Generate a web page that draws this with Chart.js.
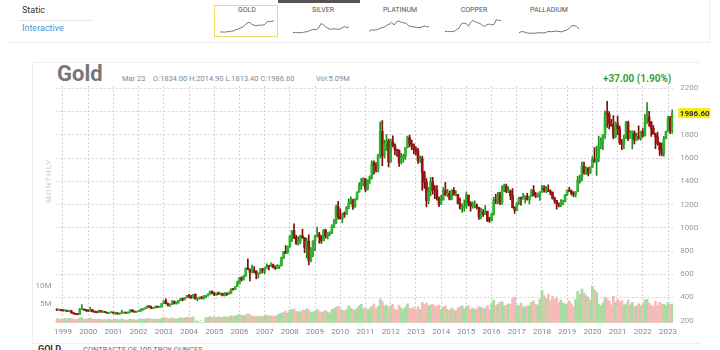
<!DOCTYPE html>
<html lang="en">
<head>
<meta charset="UTF-8" />
<title>Gold monthly</title>
<script src="https://cdn.jsdelivr.net/npm/chart.js"></script>
<style>
  body { margin: 0; width: 720px; height: 350px; overflow: hidden; background: #fff; position: relative;
         font-family: Roboto, 'Open Sans', Arial, sans-serif; }
  .abs { position: absolute; white-space: nowrap; }
  .tab { position: absolute; top: 6px; font-size: 7px; color: #555; text-align: center; }
  canvas { position: absolute; }
</style>
</head>
<body>
  <!-- header strip -->
  <div class="abs" style="left:278px;top:0;width:82px;height:3px;background:#555"></div>
  <div class="abs" style="left:22px;top:5px;font-size:9px;color:#333">Static</div>
  <div class="abs" style="left:18px;top:20px;width:74px;height:1px;background:#e6e6e6"></div>
  <div class="abs" style="left:22px;top:23px;font-size:9px;color:#4a93d2">Interactive</div>
  <div class="abs" style="left:214px;top:5px;width:62px;height:30px;border:1.5px solid #efd967"></div>
  <div class="tab" style="left:215px;width:64px">GOLD</div>
  <div class="tab" style="left:291px;width:64px">SILVER</div>
  <div class="tab" style="left:368px;width:64px">PLATINUM</div>
  <div class="tab" style="left:442px;width:64px">COPPER</div>
  <div class="tab" style="left:517px;width:64px">PALLADIUM</div>
  <div class="abs" style="left:8px;top:42px;width:702px;height:1px;background:#ececec"></div>
  <div class="abs" style="left:709px;top:0;width:1px;height:43px;background:#ececec"></div>

  <canvas id="spGold" width="56" height="16" style="left:219px;top:19px"></canvas>
  <canvas id="spSilver" width="58" height="17" style="left:292px;top:18px"></canvas>
  <canvas id="spPlatinum" width="62" height="17" style="left:368px;top:18px"></canvas>
  <canvas id="spCopper" width="58" height="19" style="left:444px;top:16px"></canvas>
  <canvas id="spPalladium" width="62" height="20" style="left:518px;top:15px"></canvas>

  <!-- chart panel -->
  <div class="abs" style="left:32px;top:62px;width:667px;height:280px;border:1px solid #efefef;border-right:none"></div>
  <div class="abs" style="left:57px;top:63px;font-size:22px;line-height:22px;font-weight:bold;color:#777">Gold</div>
  <div class="abs" style="left:122px;top:75px;font-size:7.5px;line-height:8px;color:#888">Mar 23</div>
  <div class="abs" style="left:153px;top:75px;font-size:7.5px;line-height:8px;color:#888">O:1834.00 H:2014.90 L:1813.40 C:1986.60</div>
  <div class="abs" style="left:316px;top:75px;font-size:7.5px;line-height:8px;color:#888">Vol:5.09M</div>
  <div class="abs" style="left:603px;top:74px;font-size:10px;line-height:10px;font-weight:bold;color:#3c9c3c">+37.00 (1.90%)</div>
  <div class="abs" style="left:48px;top:181px;font-size:8px;font-weight:bold;letter-spacing:1px;color:#dcdcdc;transform:translate(-50%,-50%) rotate(-90deg)">MONTHLY</div>

  <canvas id="gold" width="690" height="281" style="left:30px;top:62px"></canvas>

  <div class="abs" style="left:38px;top:344px;font-size:9px;font-weight:bold;color:#333">GOLD</div>
  <div class="abs" style="left:83px;top:345px;font-size:7.5px;color:#666">CONTRACTS OF 100 TROY OUNCES</div>

<script>
// first month shown: Oct 1998, last: Mar 2023
const startYear = 1998, startMonth = 10;

const opens = [
  296, 292, 294,
  288, 287, 287, 280, 286, 268, 262, 255, 254, 299, 299, 292,
  290, 283, 293, 278, 274, 272, 288, 276, 277, 273, 264, 270,
  273, 265, 267, 258, 264, 267, 270, 266, 273, 293, 279, 275,
  279, 282, 297, 302, 309, 326, 318, 305, 312, 324, 317, 319,
  348, 368, 347, 336, 339, 364, 346, 354, 375, 388, 386, 398,
  416, 402, 396, 427, 388, 394, 395, 391, 408, 416, 429, 453,
  438, 422, 435, 429, 435, 417, 437, 429, 433, 473, 470, 495,
  518, 569, 556, 584, 654, 643, 616, 634, 626, 599, 607, 648,
  636, 652, 672, 669, 683, 660, 650, 666, 673, 743, 794, 783,
  836, 928, 975, 917, 865, 887, 930, 914, 834, 884, 718, 816,
  884, 928, 942, 924, 890, 980, 927, 955, 955, 1008, 1040, 1182,
  1096, 1081, 1118, 1113, 1180, 1215, 1245, 1180, 1248, 1307, 1359, 1386,
  1421, 1333, 1410, 1439, 1556, 1536, 1500, 1628, 1829, 1620, 1725, 1746,
  1566, 1739, 1711, 1669, 1664, 1561, 1604, 1614, 1692, 1776, 1719, 1713,
  1676, 1662, 1579, 1596, 1476, 1393, 1234, 1313, 1396, 1327, 1323, 1250,
  1202, 1240, 1321, 1284, 1296, 1246, 1322, 1282, 1287, 1210, 1171, 1175,
  1184, 1279, 1212, 1183, 1183, 1190, 1172, 1095, 1134, 1115, 1142, 1064,
  1060, 1116, 1238, 1234, 1293, 1215, 1322, 1357, 1312, 1317, 1276, 1173,
  1152, 1211, 1253, 1251, 1268, 1268, 1242, 1269, 1322, 1280, 1271, 1275,
  1309, 1345, 1318, 1327, 1316, 1305, 1253, 1233, 1206, 1196, 1215, 1226,
  1283, 1325, 1316, 1298, 1286, 1311, 1413, 1437, 1529, 1472, 1514, 1473,
  1523, 1589, 1566, 1597, 1694, 1751, 1800, 1986, 1978, 1895, 1879, 1780,
  1895, 1850, 1734, 1716, 1768, 1906, 1771, 1818, 1818, 1757, 1784, 1774,
  1829, 1796, 1909, 1954, 1912, 1855, 1807, 1782, 1726, 1672, 1640, 1768,
  1826, 1945, 1834
];

const highs = [
  302, 300, 297,
  293, 291, 290, 291, 290, 271, 264, 259, 307, 339, 301, 294,
  293, 316, 298, 284, 279, 292, 290, 279, 279, 275, 272, 276,
  273, 268, 268, 265, 292, 273, 272, 275, 294, 294, 284, 281,
  286, 302, 304, 310, 328, 331, 325, 315, 326, 324, 324, 350,
  372, 389, 352, 341, 373, 371, 363, 378, 392, 393, 400, 418,
  427, 418, 428, 432, 398, 404, 411, 418, 419, 431, 456, 458,
  443, 439, 446, 439, 435, 443, 438, 448, 475, 479, 497, 541,
  573, 577, 591, 654, 733, 647, 679, 665, 632, 612, 649, 650,
  657, 690, 673, 698, 688, 672, 684, 678, 748, 797, 846, 842,
  930, 975, 1033, 935, 925, 938, 988, 916, 912, 940, 829, 890,
  934, 1006, 961, 932, 985, 989, 958, 964, 1025, 1072, 1195, 1227,
  1162, 1128, 1138, 1183, 1249, 1266, 1245, 1250, 1310, 1388, 1425, 1432,
  1424, 1411, 1448, 1576, 1577, 1562, 1632, 1911, 1923, 1755, 1803, 1764,
  1764, 1792, 1723, 1677, 1671, 1640, 1632, 1693, 1789, 1798, 1755, 1723,
  1697, 1684, 1617, 1616, 1488, 1424, 1348, 1434, 1434, 1362, 1362, 1267,
  1280, 1345, 1392, 1331, 1315, 1326, 1346, 1321, 1288, 1256, 1205, 1240,
  1307, 1284, 1225, 1224, 1232, 1205, 1175, 1170, 1157, 1191, 1144, 1089,
  1127, 1263, 1287, 1306, 1306, 1362, 1377, 1375, 1352, 1325, 1338, 1183,
  1220, 1264, 1264, 1296, 1270, 1296, 1272, 1331, 1362, 1306, 1299, 1310,
  1366, 1362, 1356, 1369, 1326, 1310, 1265, 1237, 1214, 1243, 1238, 1286,
  1327, 1349, 1324, 1310, 1311, 1442, 1453, 1566, 1566, 1525, 1518, 1525,
  1613, 1691, 1704, 1788, 1775, 1802, 2005, 2089, 2000, 1933, 1966, 1911,
  1962, 1875, 1758, 1798, 1917, 1919, 1837, 1834, 1834, 1815, 1878, 1831,
  1853, 1976, 2078, 2003, 1914, 1879, 1814, 1824, 1735, 1729, 1786, 1833,
  1959, 1960, 2014.9
];

const lows = [
  287, 290, 284,
  283, 282, 277, 278, 266, 256, 252, 251, 253, 295, 289, 281,
  280, 282, 276, 272, 268, 270, 274, 270, 269, 263, 262, 268,
  263, 255, 256, 255, 263, 265, 264, 264, 271, 276, 272, 272,
  277, 281, 288, 299, 308, 314, 303, 301, 311, 313, 315, 318,
  346, 344, 325, 323, 338, 344, 342, 354, 373, 370, 379, 396,
  399, 393, 394, 386, 371, 385, 387, 385, 397, 411, 424, 432,
  418, 418, 424, 423, 414, 414, 417, 429, 433, 462, 468, 495,
  516, 541, 548, 583, 640, 543, 611, 612, 560, 568, 605, 612,
  606, 651, 637, 666, 654, 642, 648, 647, 671, 733, 778, 781,
  834, 880, 906, 857, 851, 864, 908, 786, 740, 681, 705, 752,
  802, 922, 867, 866, 886, 911, 904, 931, 950, 1000, 1036, 1075,
  1075, 1044, 1088, 1112, 1163, 1203, 1157, 1176, 1240, 1307, 1329, 1360,
  1308, 1324, 1382, 1418, 1462, 1478, 1480, 1603, 1535, 1601, 1665, 1523,
  1564, 1695, 1627, 1613, 1527, 1549, 1564, 1588, 1687, 1695, 1671, 1635,
  1625, 1554, 1563, 1321, 1338, 1180, 1208, 1273, 1290, 1251, 1238, 1181,
  1200, 1238, 1277, 1268, 1240, 1240, 1280, 1273, 1205, 1161, 1131, 1142,
  1167, 1191, 1142, 1169, 1170, 1162, 1072, 1077, 1098, 1112, 1052, 1046,
  1058, 1108, 1208, 1208, 1199, 1200, 1310, 1301, 1302, 1241, 1171, 1124,
  1147, 1198, 1195, 1244, 1214, 1238, 1205, 1268, 1275, 1260, 1264, 1236,
  1305, 1307, 1303, 1310, 1282, 1247, 1211, 1160, 1180, 1182, 1196, 1222,
  1276, 1310, 1281, 1267, 1266, 1309, 1384, 1400, 1459, 1460, 1446, 1463,
  1518, 1565, 1451, 1568, 1680, 1671, 1768, 1863, 1851, 1873, 1765, 1776,
  1802, 1717, 1673, 1680, 1767, 1750, 1768, 1678, 1721, 1747, 1761, 1753,
  1780, 1789, 1895, 1872, 1787, 1805, 1680, 1711, 1622, 1618, 1617, 1765,
  1822, 1809, 1813.4
];

const closes = [
  292, 294, 288,
  287, 287, 280, 286, 268, 262, 255, 254, 299, 299, 292, 290,
  283, 293, 278, 274, 272, 288, 276, 277, 273, 264, 270, 273,
  265, 267, 258, 264, 267, 270, 266, 273, 293, 279, 275, 279,
  282, 297, 302, 309, 326, 318, 305, 312, 324, 317, 319, 348,
  368, 347, 336, 339, 364, 346, 354, 375, 388, 386, 398, 416,
  402, 396, 427, 388, 394, 395, 391, 408, 416, 429, 453, 438,
  422, 435, 429, 435, 417, 437, 429, 433, 473, 470, 495, 518,
  569, 556, 584, 654, 643, 616, 634, 626, 599, 607, 648, 636,
  652, 672, 669, 683, 660, 650, 666, 673, 743, 794, 783, 836,
  928, 975, 917, 865, 887, 930, 914, 834, 884, 718, 816, 884,
  928, 942, 924, 890, 980, 927, 955, 955, 1008, 1040, 1182, 1096,
  1081, 1118, 1113, 1180, 1215, 1245, 1180, 1248, 1307, 1359, 1386, 1421,
  1333, 1410, 1439, 1556, 1536, 1500, 1628, 1829, 1620, 1725, 1746, 1566,
  1739, 1711, 1669, 1664, 1561, 1604, 1614, 1692, 1776, 1719, 1713, 1676,
  1662, 1579, 1596, 1476, 1393, 1234, 1313, 1396, 1327, 1323, 1250, 1202,
  1240, 1321, 1284, 1296, 1246, 1322, 1282, 1287, 1210, 1171, 1175, 1184,
  1279, 1212, 1183, 1183, 1190, 1172, 1095, 1134, 1115, 1142, 1064, 1060,
  1116, 1238, 1234, 1293, 1215, 1322, 1357, 1312, 1317, 1276, 1173, 1152,
  1211, 1253, 1251, 1268, 1268, 1242, 1269, 1322, 1280, 1271, 1275, 1309,
  1345, 1318, 1327, 1316, 1305, 1253, 1233, 1206, 1196, 1215, 1226, 1283,
  1325, 1316, 1298, 1286, 1311, 1413, 1437, 1529, 1472, 1514, 1473, 1523,
  1589, 1566, 1597, 1694, 1751, 1800, 1986, 1978, 1895, 1879, 1780, 1895,
  1850, 1734, 1716, 1768, 1906, 1771, 1818, 1818, 1757, 1784, 1774, 1829,
  1796, 1909, 1954, 1912, 1855, 1807, 1782, 1726, 1672, 1640, 1768, 1826,
  1945, 1834, 1986.6
];

// volume, millions of contracts
const volumes = [
  1.1, 1.0, 0.9,
  1.0, 1.1, 1.0, 1.2, 1.1, 1.0, 0.9, 1.0, 1.3, 1.4, 1.0, 0.9,
  1.0, 1.3, 1.0, 0.9, 0.9, 1.0, 0.9, 0.8, 0.9, 0.8, 0.9, 0.8,
  0.8, 0.9, 0.9, 0.8, 1.0, 0.8, 0.7, 0.8, 1.0, 0.9, 0.8, 0.7,
  0.8, 1.0, 0.9, 0.9, 1.2, 1.1, 1.0, 0.9, 1.0, 0.9, 0.9, 1.2,
  1.4, 1.3, 1.1, 1.0, 1.3, 1.1, 1.0, 1.2, 1.4, 1.2, 1.3, 1.5,
  1.5, 1.4, 1.6, 0, 0.4, 0, 0, 0, 1.4, 1.5, 1.7, 1.4,
  1.6, 1.5, 1.6, 1.5, 1.5, 1.7, 1.5, 1.6, 1.9, 1.8, 1.9, 2.0,
  2.2, 2.0, 1.9, 2.1, 2.4, 2.2, 1.8, 1.7, 1.9, 1.6, 1.8, 1.7,
  1.9, 2.0, 1.8, 1.9, 1.8, 1.7, 2.0, 2.4, 2.6, 2.8, 3.2, 2.6,
  3.5, 3.6, 3.8, 3.2, 3.0, 3.0, 3.4, 3.3, 3.8, 3.5, 2.8, 3.0,
  3.2, 3.6, 3.2, 2.8, 3.0, 3.4, 2.9, 2.6, 3.6, 3.8, 4.2, 4.5,
  3.8, 3.4, 3.2, 3.6, 4.6, 4.0, 3.6, 3.4, 4.0, 4.6, 5.0, 3.8,
  4.0, 3.6, 3.8, 4.4, 5.2, 3.8, 4.5, 6.5, 5.8, 4.6, 4.8, 4.2,
  4.6, 5.0, 3.8, 3.4, 4.8, 4.0, 3.6, 4.2, 5.2, 4.0, 3.8, 4.2,
  3.6, 4.4, 3.6, 5.6, 5.0, 5.4, 4.6, 4.8, 5.0, 4.6, 4.4, 4.8,
  3.6, 4.2, 4.6, 3.6, 3.4, 4.0, 3.6, 3.2, 4.0, 4.4, 4.6, 3.8,
  4.4, 4.6, 3.6, 4.0, 3.6, 3.8, 4.4, 4.2, 3.8, 4.0, 4.6, 3.6,
  5.2, 6.2, 4.6, 5.0, 5.6, 5.8, 4.6, 4.8, 5.2, 5.0, 6.6, 7.0,
  4.8, 4.6, 5.4, 4.4, 4.2, 4.6, 4.6, 5.6, 6.0, 5.0, 4.8, 6.4,
  8.8, 7.4, 6.6, 7.8, 6.0, 7.2, 6.4, 7.0, 5.6, 6.2, 5.4, 5.2,
  5.0, 6.0, 5.2, 4.4, 6.4, 8.6, 7.8, 9.2, 8.2, 7.4, 7.0, 6.2,
  10.0, 9.0, 8.4, 5.0, 4.6, 5.4, 7.0, 6.6, 6.0, 4.8, 7.2, 5.6,
  6.4, 5.8, 6.0, 4.8, 5.2, 6.2, 4.8, 5.6, 4.4, 4.6, 5.2, 4.6,
  5.2, 6.2, 6.4, 5.4, 4.8, 4.4, 5.8, 4.6, 5.6, 5.2, 5.0, 4.6,
  5.6, 5.0, 5.09
];

const priceTicks = [200, 400, 600, 800, 1000, 1200, 1400, 1600, 1800, 2000, 2200];
const volumeTicks = [5, 10];

// sparkline series for the tabs (yearly, 1999-2023)
const sparkGold = [290, 280, 275, 310, 360, 410, 445, 600, 700, 870, 970, 1230, 1570, 1670, 1410, 1265, 1160, 1250, 1260, 1270, 1390, 1770, 1800, 1800, 1900];
const sparkSilver = [5.2, 5.0, 4.4, 4.6, 4.9, 6.7, 7.3, 11.6, 13.4, 15.0, 14.7, 20, 35, 31, 24, 19, 15.7, 17, 17, 15.7, 16.2, 20.5, 25, 21.7, 23];
const sparkPlatinum = [370, 545, 530, 540, 690, 845, 895, 1140, 1300, 1570, 1200, 1610, 1720, 1550, 1490, 1380, 1050, 990, 950, 880, 865, 880, 1090, 960, 980];
const sparkCopper = [0.7, 0.8, 0.7, 0.7, 0.8, 1.3, 1.7, 3.0, 3.2, 3.1, 2.3, 3.4, 4.0, 3.6, 3.3, 3.1, 2.5, 2.2, 2.8, 2.9, 2.7, 2.8, 4.2, 4.0, 4.0];
const sparkPalladium = [350, 680, 600, 340, 200, 230, 200, 320, 355, 350, 260, 520, 730, 640, 720, 800, 690, 610, 860, 1030, 1530, 2200, 2400, 2100, 1450];

const UP = '#2fb32f', DOWN = '#9a1212';
const UP_WICK = '#1f8a1f', DOWN_WICK = '#7a0c0c';
const VOL_UP = '#a9dca0', VOL_DOWN = '#f8b9b9';

const labels = closes.map((_, i) => {
  const m = startMonth - 1 + i;
  const y = startYear + Math.floor(m / 12);
  return y + '-' + String(m % 12 + 1).padStart(2, '0');
});
const isUp = closes.map((c, i) => c >= opens[i]);
const isJan = i => labels[i].endsWith('-01');

const priceBox = {
  id: 'priceBox',
  afterDraw(chart) {
    const ctx = chart.ctx;
    const last = closes[closes.length - 1];
    const y = chart.scales.y.getPixelForValue(last);
    const x = chart.chartArea.right + 5;
    ctx.save();
    ctx.fillStyle = '#f4ee10';
    ctx.fillRect(x, y - 5, 32, 10);
    ctx.fillStyle = '#333';
    ctx.font = 'bold 8px Roboto, Arial, sans-serif';
    ctx.textBaseline = 'middle';
    ctx.fillText(last.toFixed(2), x + 1.5, y + 0.5);
    ctx.restore();
  }
};

new Chart(document.getElementById('gold'), {
  type: 'bar',
  data: {
    labels: labels,
    datasets: [
      {
        label: 'body',
        data: opens.map((o, i) => [o, closes[i]]),
        backgroundColor: isUp.map(u => u ? UP : DOWN),
        barThickness: 2,
        minBarLength: 1,
        grouped: false,
        yAxisID: 'y',
        order: 1
      },
      {
        label: 'wick',
        data: lows.map((l, i) => [l, highs[i]]),
        backgroundColor: isUp.map(u => u ? UP_WICK : DOWN_WICK),
        barThickness: 1,
        grouped: false,
        yAxisID: 'y',
        order: 2
      },
      {
        label: 'volume',
        data: volumes,
        backgroundColor: isUp.map(u => u ? VOL_UP : VOL_DOWN),
        barPercentage: 1,
        categoryPercentage: 1,
        grouped: false,
        yAxisID: 'yv',
        order: 3
      }
    ]
  },
  options: {
    responsive: false,
    animation: false,
    devicePixelRatio: 1,
    layout: { padding: { top: 24, left: 0, right: 0, bottom: 0 } },
    plugins: { legend: { display: false }, tooltip: { enabled: false } },
    scales: {
      x: {
        offset: true,
        grid: {
          offset: false,
          drawTicks: false,
          color: ctx => isJan(ctx.index) ? '#cfcfcf' : 'rgba(0,0,0,0)'
        },
        border: { display: false, dash: [2, 2] },
        ticks: {
          autoSkip: false,
          maxRotation: 0,
          padding: 4,
          color: '#888',
          font: { size: 8, family: 'Roboto, Arial, sans-serif' },
          callback: (v, i) => isJan(i) ? labels[i].slice(0, 4) : ''
        },
        afterFit: s => { s.height = 20.3; }
      },
      y: {
        position: 'right',
        min: 183,
        max: 2220,
        afterBuildTicks: s => { s.ticks = priceTicks.map(v => ({ value: v })); },
        grid: { color: '#d2d2d2', drawTicks: false },
        border: { display: false, dash: [2, 2] },
        ticks: {
          padding: 7,
          color: '#999',
          font: { size: 8, family: 'Roboto, Arial, sans-serif' },
          callback: v => v === 2000 ? '' : v
        },
        afterFit: s => { s.width = 46.7; }
      },
      yv: {
        position: 'left',
        min: 0,
        max: 64.8,
        afterBuildTicks: s => { s.ticks = volumeTicks.map(v => ({ value: v })); },
        grid: { display: false, drawTicks: false },
        border: { display: false },
        ticks: {
          padding: 4,
          color: '#999',
          font: { size: 8, family: 'Roboto, Arial, sans-serif' },
          callback: v => v + 'M'
        },
        afterFit: s => { s.width = 25.6; }
      }
    }
  },
  plugins: [priceBox]
});

function spark(id, values) {
  new Chart(document.getElementById(id), {
    type: 'line',
    data: {
      labels: values.map((_, i) => i),
      datasets: [{ data: values, borderColor: '#777', borderWidth: 1, pointRadius: 0, tension: 0 }]
    },
    options: {
      responsive: false,
      animation: false,
      devicePixelRatio: 1,
      events: [],
      layout: { padding: 1 },
      plugins: { legend: { display: false }, tooltip: { enabled: false } },
      scales: { x: { display: false }, y: { display: false } }
    }
  });
}
spark('spGold', sparkGold);
spark('spSilver', sparkSilver);
spark('spPlatinum', sparkPlatinum);
spark('spCopper', sparkCopper);
spark('spPalladium', sparkPalladium);
</script>
</body>
</html>
